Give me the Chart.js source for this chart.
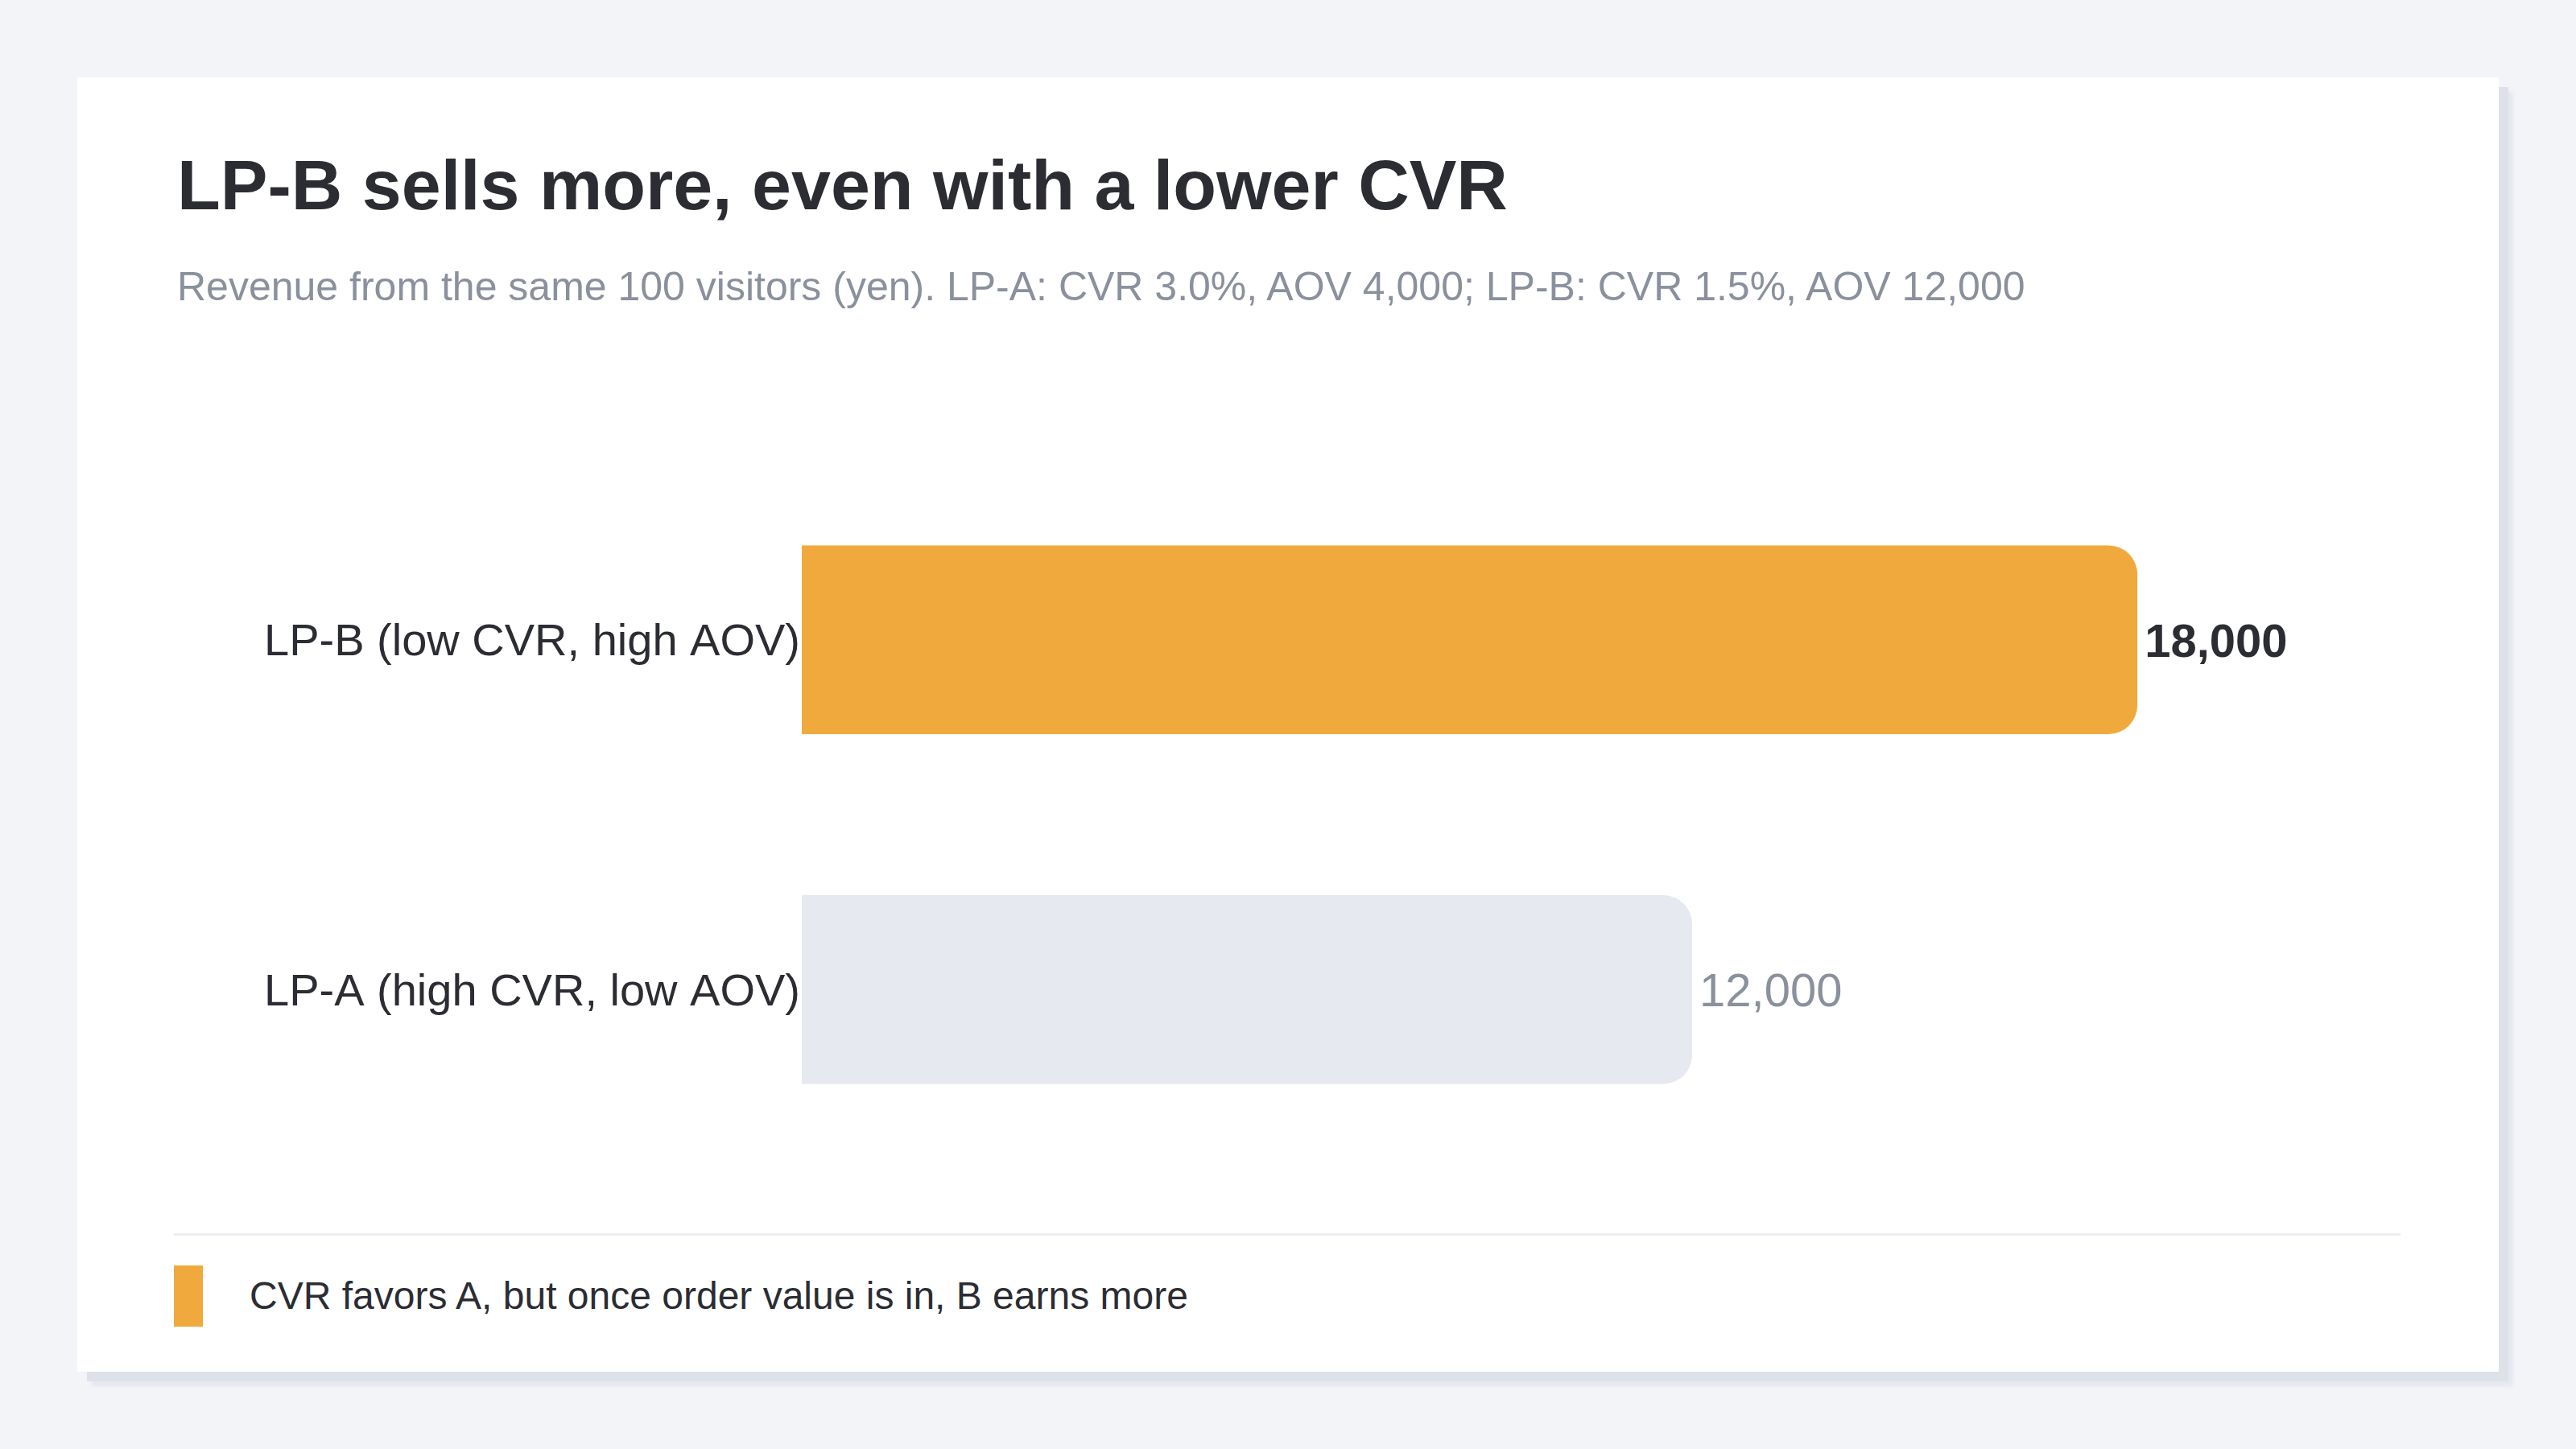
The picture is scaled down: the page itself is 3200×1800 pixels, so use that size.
<!DOCTYPE html>
<html>
<head>
<meta charset="utf-8">
<script src="https://cdn.jsdelivr.net/npm/chart.js@4.4.1/dist/chart.umd.min.js"></script>
<style>
  html, body { margin: 0; padding: 0; background: #f3f4f8; width: 3200px; height: 1800px; overflow: hidden; }
  body { position: relative; font-family: "Liberation Sans", Arial, Helvetica, sans-serif; }
  .card { position: absolute; left: 96px; top: 96px; width: 3008px; height: 1608px; background: #fff;
          box-shadow: 12px 12px 0 #dfe1e8, 18px 18px 4px rgba(225,228,236,0.7); }
  .title { position: absolute; left: 220px; top: 186px; font-size: 88px; line-height: 88px; font-weight: bold; color: #2b2d33; white-space: nowrap; }
  .subtitle { position: absolute; left: 220px; top: 331px; font-size: 50px; line-height: 50px; color: #8a909c; white-space: nowrap; }
  .chart-box { position: absolute; left: 220px; top: 550px; width: 2767px; height: 924px; }
  .rule { position: absolute; left: 216px; top: 1532px; width: 2766px; height: 3px; background: #eceef2; }
  .swatch { position: absolute; left: 216px; top: 1572px; width: 36px; height: 76px; background: #f0a93c; }
  .note { position: absolute; left: 310px; top: 1586px; font-size: 48px; line-height: 48px; color: #2b2d33; white-space: nowrap; }
</style>
</head>
<body>
<div class="card"></div>
<div class="title">LP-B sells more, even with a lower CVR</div>
<div class="subtitle">Revenue from the same 100 visitors (yen). LP-A: CVR 3.0%, AOV 4,000; LP-B: CVR 1.5%, AOV 12,000</div>
<div class="chart-box"><canvas id="revChart" width="2767" height="924"></canvas></div>
<div class="rule"></div>
<div class="swatch"></div>
<div class="note">CVR favors A, but once order value is in, B earns more</div>

<script>
// data
var categories = ["LP-B (low CVR, high AOV)", "LP-A (high CVR, low AOV)"];
var revenue = [18000, 12000];
var xMax = 21600;

var barColors = ["#f0a93c", "#e6e9f0"];
var labelColors = ["#2b2d33", "#8a909c"];
var labelWeights = ["bold", "normal"];

Chart.defaults.font.family = "'Liberation Sans', Arial, Helvetica, sans-serif";

// draws the value at the end of each bar
var valueLabels = {
  id: "valueLabels",
  afterDatasetsDraw: function (chart) {
    var ctx = chart.ctx;
    var meta = chart.getDatasetMeta(0);
    ctx.save();
    ctx.textBaseline = "middle";
    ctx.textAlign = "left";
    meta.data.forEach(function (bar, i) {
      ctx.font = labelWeights[i] + " 58px 'Liberation Sans', Arial, sans-serif";
      ctx.fillStyle = labelColors[i];
      ctx.fillText(revenue[i].toLocaleString("en-US"), bar.x + 9, bar.y + 5);
    });
    ctx.restore();
  },
};

var ctx = document.getElementById("revChart").getContext("2d");

var revChart = new Chart(ctx, {
  type: "bar",
  data: {
    labels: categories,
    datasets: [
      {
        data: revenue,
        backgroundColor: barColors,
        borderRadius: 36,
        borderSkipped: "start",
        categoryPercentage: 1,
        barPercentage: 0.54,
      },
    ],
  },
  options: {
    indexAxis: "y",
    responsive: false,
    animation: false,
    devicePixelRatio: 1,
    layout: { padding: 0 },
    plugins: {
      legend: { display: false },
      tooltip: { enabled: false },
    },
    scales: {
      x: {
        display: false,
        min: 0,
        max: xMax,
      },
      y: {
        grid: { display: false },
        border: { display: false },
        ticks: {
          color: "#2b2d33",
          font: { size: 56 },
          padding: -6,
          labelOffset: 4,
        },
        afterFit: function (scale) {
          scale.width = 776; // bars start at x=996 on the page
        },
      },
    },
  },
  plugins: [valueLabels],
});
</script>
</body>
</html>
